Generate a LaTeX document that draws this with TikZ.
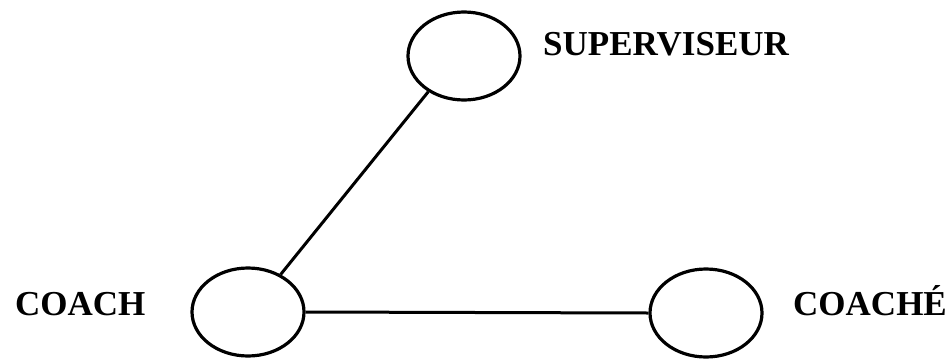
\documentclass[tikz,border=0pt]{standalone}
\usepackage{fontspec}
\setmainfont{Liberation Serif}
\usetikzlibrary{shapes.geometric}
\begin{document}
\begin{tikzpicture}[x=1pt,y=-1pt,
  role/.style={ellipse,draw,line width=3.2pt,minimum width=112pt,minimum height=88pt,inner sep=0pt},
  lab/.style={font=\bfseries\fontsize{35}{35}\selectfont,inner sep=0pt,anchor=base west},
  link/.style={line width=3pt}]
\useasboundingbox (0,0) rectangle (952,359);
\node[role] (sup) at (464,56) {};
\node[role] (coach) at (248,312) {};
\node[role] (coache) at (706,313) {};
\node[lab] (tsup) at (543,55) {SUPERVISEUR};
\node[lab] (tcoach) at (15,315) {COACH};
\node[lab] (tcoache) at (793,315) {COACHÉ};
\draw[link] (sup.225) -- (coach.49);
\draw[link] (coach.east) -- (coache.west);
\end{tikzpicture}
\end{document}
